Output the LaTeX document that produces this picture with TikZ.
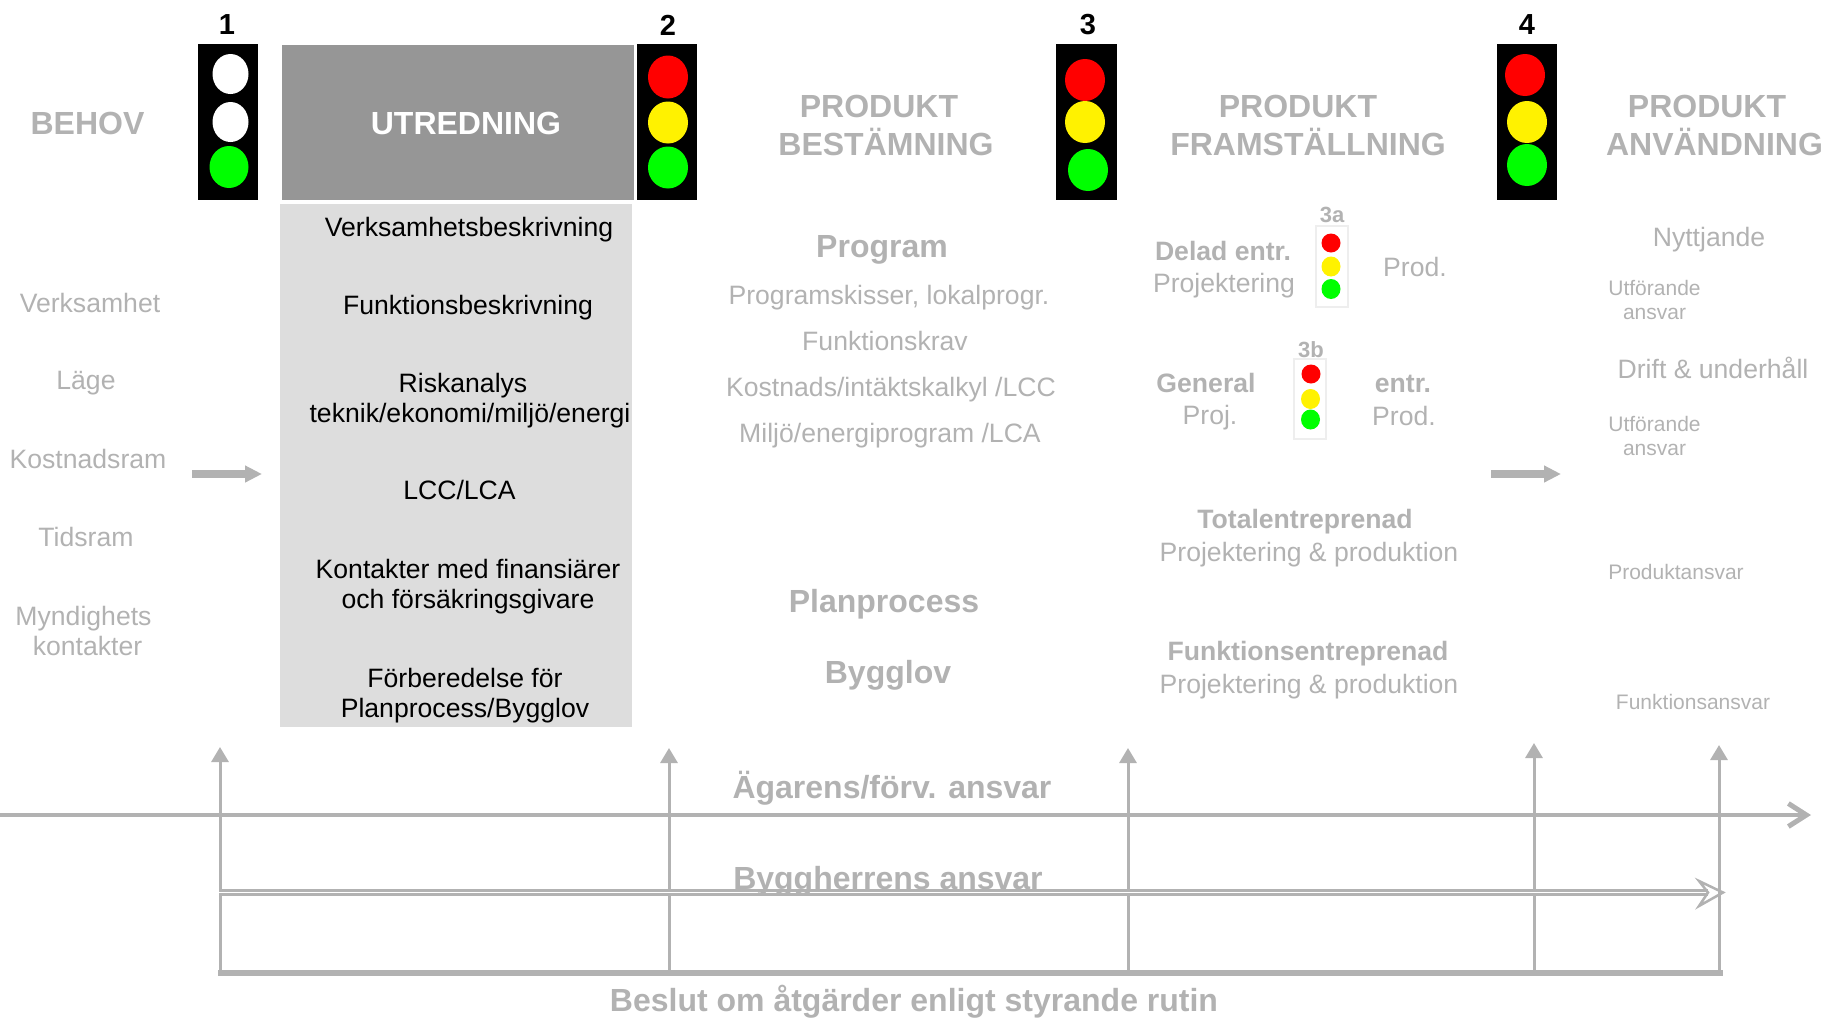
\documentclass[tikz,border=0pt]{standalone}
\usepackage{fontspec}
\setmainfont{Liberation Sans}
\usetikzlibrary{arrows.meta}
\definecolor{ljus}{HTML}{B2B2B2}
\definecolor{morkbox}{HTML}{969696}
\definecolor{ljusbox}{HTML}{DDDDDD}
\definecolor{ramgra}{HTML}{EEEEEE}
\tikzset{
	rubrik/.style={text=ljus,font=\bfseries\fontsize{32}{37}\selectfont,align=center,inner sep=0pt},
	fettext/.style={text=ljus,font=\bfseries\fontsize{26.6}{31}\selectfont,inner sep=0pt},
	brod/.style={text=ljus,font=\fontsize{26.6}{31}\selectfont,align=center,inner sep=0pt},
	svart/.style={text=black,font=\fontsize{26.6}{30.5}\selectfont,align=center,inner sep=0pt},
	liten/.style={text=ljus,font=\fontsize{21}{24}\selectfont,align=center,inner sep=0pt},
	siffra/.style={text=black,font=\bfseries\fontsize{29}{33}\selectfont,inner sep=0pt},
	tretal/.style={text=ljus,font=\bfseries\fontsize{22}{26}\selectfont,inner sep=0pt},
	stolpe/.style={draw=ljus,line width=3pt,-{Triangle[length=15pt,width=17pt]}},
	blockpil/.style={draw=ljus,line width=8pt,-{Triangle[length=17pt,width=16pt]}}
}
\newcommand{\Lampa}[5]{\fill[#1] (#2,#3) ellipse [x radius=#4,y radius=#5];}
\begin{document}
\begin{tikzpicture}[x=1pt,y=-1pt]
	\useasboundingbox (0,0) rectangle (1824,1018);

	% Rutor utredning
	\fill[morkbox] (282,45) rectangle (634,200);
	\fill[ljusbox] (280,204) rectangle (632,727);
	\node[rubrik,text=white] (utredning) at (466,123) {UTREDNING};

	% Signal 1
	\node[siffra] (nr1) at (227,25) {1};
	\fill[black] (197.5,44) rectangle (257.5,200);
	\Lampa{white}{230.5}{74}{18}{20}
	\Lampa{white}{230.5}{122}{18}{20}
	\Lampa{green}{229}{167}{19.5}{21}
	% Signal 2
	\node[siffra] (nr2) at (668,25) {2};
	\fill[black] (637,44) rectangle (697,200);
	\Lampa{red}{668}{77}{20}{21.5}
	\Lampa{yellow}{668}{122.5}{20}{21}
	\Lampa{green}{668}{167.5}{20}{21}
	% Signal 3
	\node[siffra] (nr3) at (1088,25) {3};
	\fill[black] (1056,44) rectangle (1117,200);
	\Lampa{red}{1085}{80}{20}{21}
	\Lampa{yellow}{1085}{122}{20}{21}
	\Lampa{green}{1088}{170}{20}{21}
	% Signal 4
	\node[siffra] (nr4) at (1527,25) {4};
	\fill[black] (1497,44) rectangle (1557,200);
	\Lampa{red}{1525}{75}{20}{21}
	\Lampa{yellow}{1527}{122}{20}{21}
	\Lampa{green}{1527}{165}{20}{21}
	% Signal 3a
	\draw[ramgra,line width=2pt] (1316,226) rectangle (1348,307);
	\Lampa{red}{1331}{243}{9.5}{9.5}
	\Lampa{yellow}{1331}{266.5}{9.5}{10}
	\Lampa{green}{1331}{289}{9.5}{10}
	% Signal 3b
	\draw[ramgra,line width=2pt] (1294,359) rectangle (1326,439);
	\Lampa{red}{1311}{374}{9.5}{9.5}
	\Lampa{yellow}{1310.5}{399}{9.5}{10}
	\Lampa{green}{1310.5}{419.5}{9.5}{10}

	% Rubriker
	\node[rubrik] (behov) at (87.5,123) {BEHOV};
	\node[rubrik] (produktB) at (879,106.5) {PRODUKT};
	\node[rubrik] (bestamning) at (886,142) {BESTÄMNING};
	\node[rubrik] (produktF) at (1298,106.5) {PRODUKT};
	\node[rubrik] (framstallning) at (1308,142) {FRAMSTÄLLNING};
	\node[rubrik] (produktA) at (1707,106.5) {PRODUKT};
	\node[rubrik] (anvandning) at (1714.5,142) {ANVÄNDNING};

	% Behov
	\node[brod] (verksamhet) at (90,303) {Verksamhet};
	\node[brod] (lage) at (86,383) {Läge};
	\node[brod] (kostnadsram) at (88,459) {Kostnadsram};
	\node[brod] (tidsram) at (86,537) {Tidsram};
	\node[brod] (myndighet) at (83.5,618.5) {Myndighets};
	\node[brod] (kontakter) at (87.5,646) {kontakter};

	% Utredning
	\node[svart] (beskr) at (469,229.5) {Verksamhetsbeskrivning};
	\node[svart] (funktion) at (468,307.5) {Funktionsbeskrivning};
	\node[svart] (risk) at (463,385.5) {Riskanalys};
	\node[svart] (teknik) at (470,415.5) {teknik/ekonomi/miljö/energi};
	\node[svart] (lcc) at (459.5,490) {LCC/LCA};
	\node[svart] (kontakter2) at (468,586.5) {Kontakter med finansiärer\\och försäkringsgivare};
	\node[svart] (forberedelse) at (465,695.5) {Förberedelse för\\Planprocess/Bygglov};

	% Produktbestamning
	\node[rubrik] (program) at (882,249.5) {Program};
	\node[brod] (skisser) at (889,297.5) {Programskisser, lokalprogr.};
	\node[brod] (krav) at (885,341) {Funktionskrav};
	\node[brod] (kalkyl) at (891,389.5) {Kostnads/intäktskalkyl /LCC};
	\node[brod] (miljo) at (890,435.5) {Miljö/energiprogram /LCA};
	\node[rubrik] (plan) at (884,604) {Planprocess};
	\node[rubrik] (bygglov) at (888,675.5) {Bygglov};

	% Produktframstallning
	\node[tretal] (n3a) at (1332,215) {3a};
	\node[tretal] (n3b) at (1311,350) {3b};
	\node[fettext] (delad) at (1223,251) {Delad entr.};
	\node[brod] (proj3a) at (1224,285.5) {Projektering};
	\node[brod] (prod3a) at (1415,267) {Prod.};
	\node[fettext] (general) at (1206,383) {General};
	\node[brod] (proj3b) at (1210,417.5) {Proj.};
	\node[fettext] (entr) at (1403,383.5) {entr.};
	\node[brod] (prod3b) at (1404,416) {Prod.};
	\node[fettext] (total) at (1305,521.5) {Totalentreprenad};
	\node[brod] (projt) at (1309,554.5) {Projektering \& produktion};
	\node[fettext] (funkt) at (1308,653.5) {Funktionsentreprenad};
	\node[brod] (projf) at (1309,686.5) {Projektering \& produktion};

	% Produktanvandning
	\node[brod] (nytt) at (1709,239.5) {Nyttjande};
	\node[liten] (utf1) at (1654.5,300) {Utförande\\ansvar};
	\node[brod] (drift) at (1713,368) {Drift \& underhåll};
	\node[liten] (utf2) at (1654.5,436) {Utförande\\ansvar};
	\node[liten] (prodansvar) at (1676,572) {Produktansvar};
	\node[liten] (funkansvar) at (1693,702) {Funktionsansvar};

	% Blockpilar
	\coordinate (pilA1) at (192,474);
	\coordinate (pilA2) at (262,474);
	\coordinate (pilB1) at (1491,474);
	\coordinate (pilB2) at (1561,474);
	\draw[blockpil] (pilA1) -- (pilA2);
	\draw[blockpil] (pilB1) -- (pilB2);

	% Stolpar
	\coordinate (botA) at (220,973);
	\coordinate (botB) at (669,973);
	\coordinate (botC) at (1128,973);
	\coordinate (botD) at (1534,973);
	\coordinate (botE) at (1719,973);
	\coordinate (topA) at (220,747);
	\coordinate (topB) at (669,748);
	\coordinate (topC) at (1128,748);
	\coordinate (topD) at (1534,743);
	\coordinate (topE) at (1719,745);
	\draw[stolpe] (botA) -- (topA);
	\draw[stolpe] (botB) -- (topB);
	\draw[stolpe] (botC) -- (topC);
	\draw[stolpe] (botD) -- (topD);
	\draw[stolpe] (botE) -- (topE);

	% Agarens ansvar
	\coordinate (agareV) at (0,815);
	\coordinate (agareH) at (1811,815);
	\draw[ljus,line width=4pt,-{Straight Barb[length=18pt,width=23pt,line width=5pt]}] (agareV) -- (agareH);
	\node[rubrik] (agare) at (892,788) {Ägarens/förv. ansvar};

	% Byggherrens ansvar
	\coordinate (byggV) at (219,892.5);
	\coordinate (byggH) at (1708,892.5);
	\coordinate (spetsT) at (1723,892.5);
	\coordinate (spetsO) at (1699,881);
	\coordinate (spetsU) at (1699,906);
	\draw[ljus,line width=2.5pt,double=white,double distance=1.5pt] (byggV) -- (byggH);
	\draw[ljus,line width=2.5pt,line join=miter] (spetsO) -- (spetsT) -- (spetsU) -- (byggH) -- cycle;
	\node[rubrik] (bygg) at (888,881) {Byggherrens ansvar};

	% Beslut
	\coordinate (beslutV) at (218,973);
	\coordinate (beslutH) at (1723,973);
	\draw[ljus,line width=6pt] (beslutV) -- (beslutH);
	\node[rubrik] (beslut) at (914,1002) {Beslut om åtgärder enligt styrande rutin};
\end{tikzpicture}
\end{document}
